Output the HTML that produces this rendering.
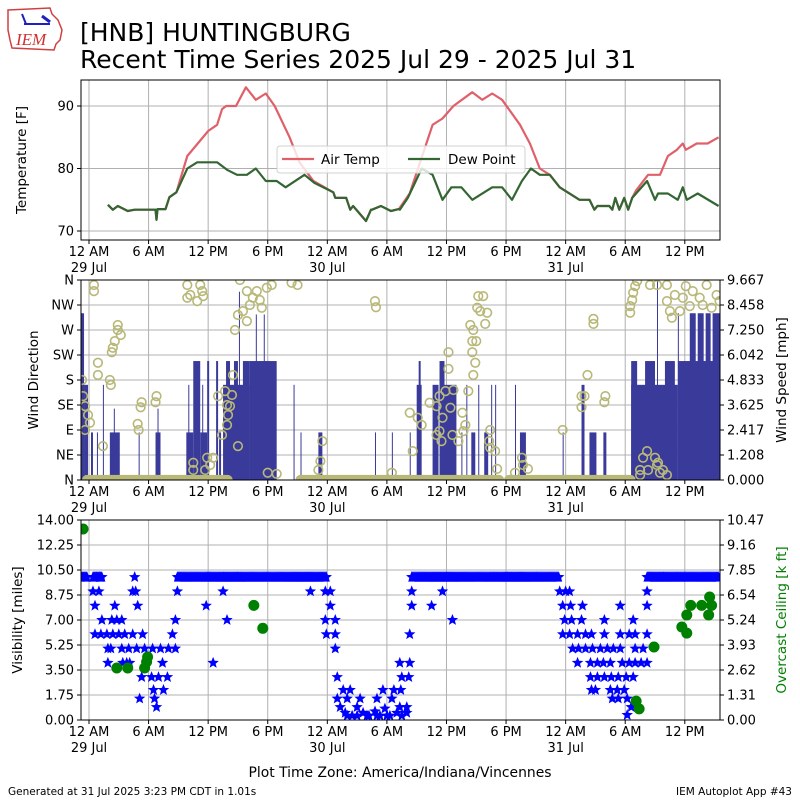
<!DOCTYPE html>
<html><head><meta charset="utf-8">
<style>
html,body{margin:0;padding:0;background:#fff;}
svg{display:block;font-family:"DejaVu Sans","Liberation Sans",sans-serif;}
</style></head>
<body>
<svg id="chart" width="800" height="800" viewBox="0 0 800 800" xmlns="http://www.w3.org/2000/svg">
<defs>
<clipPath id="c1"><rect x="81" y="80" width="639" height="160"/></clipPath>
<clipPath id="c2"><rect x="81" y="280" width="639" height="200"/></clipPath>
<clipPath id="c3"><rect x="81" y="520" width="639" height="200"/></clipPath>
</defs>
<g>
<path d="M8,10 L50,8 L52,14 L58,20 L62,30 L60,40 L56,44 L54,50 L12,48 L10,40 L8,30 Z" fill="none" stroke="#d04040" stroke-width="1.5"/>
<line x1="24" y1="24" x2="50" y2="24" stroke="#2020c0" stroke-width="2"/>
<line x1="22" y1="14" x2="26" y2="24" stroke="#2020c0" stroke-width="2"/>
<line x1="42" y1="16" x2="50" y2="22" stroke="#2020c0" stroke-width="3"/>
<text x="16" y="45" font-family="Liberation Serif,serif" font-style="italic" font-size="17" fill="#d03030">IEM</text>
</g>
<text x="80" y="41" font-size="25">[HNB] HUNTINGBURG</text>
<text x="80" y="68" font-size="25">Recent Time Series 2025 Jul 29 - 2025 Jul 31</text>
<g id="p1"></g>
<g id="p2"></g>
<g id="p3"></g>
<text x="400" y="777" font-size="13.9" text-anchor="middle">Plot Time Zone: America/Indiana/Vincennes</text>
<text x="8" y="795" font-size="10.5">Generated at 31 Jul 2025 3:23 PM CDT in 1.01s</text>
<text x="792" y="795" font-size="10.5" text-anchor="end">IEM Autoplot App #43</text>
</svg>
<script>
// ---- data (hours since 12 AM 29 Jul) ----
const tempHours=[1.9,2.4,2.9,3.9,4.6,4.9,5.9,6.7,6.8,6.9,7.7,8.1,8.8,9.9,12.0,12.9,13.4,13.8,14.8,15.8,16.8,17.8,18.7,20.2,21.2,22.6,24.6,24.8,25.9,26.3,26.6,27.9,28.4,28.5,29.4,30.4,31.2,32.3,34.6,35.6,36.7,38.6,39.6,40.6,41.6,43.4,44.4,45.4,46.4,47.4,49.4,50.4,50.9,51.2,52.4,52.7,53.0,53.4,53.9,54.3,54.7,55.1,56.3,56.8,57.5,58.3,59.2,59.8,60.1,61.2,62.3,63.4];
const tempVals=[74.2,73.4,74,73.2,73.4,73.4,73.4,73.4,71.8,73.5,73.5,75.4,76.2,82,86,87,89.5,90,90,93,91,92,90,85,81,78,76.2,75.3,75.3,73.4,74,71.6,73.4,73.4,74,73.2,73.5,76,87,88,90,92.2,91,92,91,87,84,80,79,77,75,75,73.4,74,74,73.4,75.3,73.4,75.3,73.4,75.3,76.5,79,79,79,82,83,84,83,84,84,85];
const dewHours=[1.9,2.4,2.9,3.9,4.6,4.9,5.9,6.7,6.8,6.9,7.7,8.1,8.8,9.9,10.9,12.9,13.9,14.9,15.9,16.8,17.8,18.9,19.8,21.7,22.7,24.6,24.8,25.9,26.3,26.6,27.9,28.4,28.5,29.4,30.4,31.2,31.3,32.1,33.5,34.6,35.6,36.5,37.5,38.6,40.6,41.6,42.6,43.6,44.5,45.4,46.4,47.4,49.4,50.4,50.9,51.2,52.4,52.7,53.0,53.4,53.9,54.3,54.7,56.2,57.0,57.3,58.3,59.3,59.8,60.2,61.3,63.4];
const dewVals=[74.2,73.4,74,73.2,73.4,73.4,73.4,73.4,71.8,73.5,73.5,75.4,76.2,80,81,81,79.8,79,79,80,78,78,77,79,77.7,76.2,75.3,75.3,73.4,74,71.6,73.4,73.4,74,73.2,73.5,73.4,75.3,80,79,75,77,77,75,77,77,75,78,80,79,79,77,75,75,73.4,74,74,73.4,75.3,73.4,75.3,73.4,75.3,78,75,76,76,75,77,75,76,74];
const tempTicks=[70,80,90];
// wind speed bars
const barStart=[-0.9,-0.5,0.2,0.8,1.4,2.1,2.5,5.0,6.7,6.9,9.8,10.0,10.5,11.2,11.4,11.9,12.8,13.1,13.5,13.8,14.6,15.1,15.5,16.2,16.8,17.6,20.6,21.3,23.1,28.8,30.5,32.3,33.0,33.2,34.6,35.3,35.8,37.5,38.0,38.5,39.2,39.8,40.5,40.9,42.9,43.4,47.7,49.6,50.4,51.8,54.6,54.6,56.0,57.2,58.0,59.3,59.3,60.5,61.3,62.1,62.8];
const barEnd=[-0.5,-0.1,0.4,0.9,1.5,3.1,2.6,5.1,7.2,7.0,10.5,10.1,11.2,11.9,11.5,12.1,13.0,13.3,16.2,14.2,15.0,15.2,16.2,18.9,16.9,17.7,20.7,21.4,23.5,28.9,30.6,32.4,33.5,33.4,35.2,35.8,37.0,37.6,38.1,38.9,39.3,40.2,40.6,41.0,43.0,44.0,47.8,49.9,51.1,52.1,59.3,55.2,57.0,57.3,59.0,63.5,59.4,61.1,61.9,62.6,63.5];
const barSpeed=[8.06,4.6,2.3,2.3,4.6,2.3,3.45,2.3,2.3,3.45,2.3,4.6,5.75,2.3,4.6,5.75,5.75,2.3,4.6,5.75,5.75,9.1,5.75,5.75,8.0,8.0,4.6,2.3,2.3,2.3,2.3,2.3,4.6,5.75,4.6,5.75,4.6,2.3,4.6,2.3,4.6,2.3,4.6,4.6,4.6,2.3,2.3,4.6,2.3,2.3,4.6,5.75,5.75,9.6,5.75,5.75,8.06,8.06,8.06,8.06,8.06];
// wind direction
const dirHours=[0.5,0.5,2.9,2.9,3.2,2.6,2.4,2.3,0.9,0.9,2.1,2.2,-0.7,-0.6,-0.4,-0.1,0.1,-0.4,1.4,5.3,5.2,4.9,5.0,6.8,6.7,9.9,10.2,10.9,11.4,11.2,9.9,11.5,13.0,13.7,13.9,14.0,13.9,13.4,14.4,14.5,14.2,15.0,14.7,15.0,15.5,15.9,16.2,16.5,16.9,17.2,17.4,17.9,18.4,15.9,15.2,20.4,21.0,10.5,10.5,11.9,12.2,12.5,11.7,18.0,18.9,23.5,23.3,23.1,28.8,28.9,30.5,
32.3,33.1,33.5,32.6,34.3,35.0,35.3,36.2,36.2,35.9,36.7,36.4,35.6,35.3,35.0,35.5,36.6,37.2,37.6,37.9,37.7,38.2,38.4,38.7,38.6,39.0,38.6,38.9,38.7,39.1,39.4,39.2,39.7,40.1,39.9,40.4,40.3,40.4,40.9,41.1,42.9,43.6,43.7,44.2,47.7,49.6,49.9,49.6,50.2,50.8,50.8,52.0,51.9,
54.5,54.5,54.7,54.8,55.0,55.2,56.5,57.2,58.2,58.5,58.7,59.5,59.0,59.8,60.5,60.8,61.5,62.2,62.7,63.2,63.5,61.8,60.1,58.2,56.2,55.8,57.0,57.2,55.5,56.3,57.5,58.2,55.5,57.3,57.8];
const dirDeg=[351,340,279,270,261,250,238,230,211,189,180,171,180,151,133,117,103,90,61,140,131,101,90,151,140,351,333,322,340,351,328,331,151,160,135,117,99,81,153,189,133,61,270,297,304,286,315,328,340,324,310,346,351,340,360,355,351,31,18,40,27,40,18,13,11,70,34,18,322,311,13,
121,112,99,52,139,133,151,230,200,160,162,130,112,88,81,70,81,70,121,99,88,160,279,270,250,250,230,211,189,310,304,331,331,301,281,90,70,58,52,20,13,40,27,20,90,151,151,131,189,290,281,151,140,
301,313,324,337,349,358,351,351,322,304,292,304,333,328,313,340,328,351,310,333,322,315,349,351,52,40,40,27,18,18,13,9,9,31,18];
const calmStart=[-0.2,21.3,42.3];
const calmEnd=[14.0,41.3,54.6];
const dirTicks=['N','NE','E','SE','S','SW','W','NW','N'];
const speedTicks=['0.000','1.208','2.417','3.625','4.833','6.042','7.250','8.458','9.667'];
// visibility
const visRunStart=[-0.9,0.4,8.9,32.5,56.2];
const visRunEnd=[-0.2,1.4,24.0,47.4,63.5];
const visHours=[1.1,4.6,0.4,1.0,4.4,4.7,8.9,13.5,22.3,23.8,24.3,0.6,2.6,4.9,11.8,24.3,1.3,2.3,2.8,3.3,8.7,13.9,23.8,24.8,0.6,1.2,1.8,2.4,3.0,3.6,4.4,5.4,8.4,23.9,24.8,1.9,2.2,3.3,4.0,4.8,5.6,6.4,7.2,8.0,8.7,24.8,1.9,3.8,7.4,12.5,3.4,4.1,5.3,6.3,7.0,7.9,25.0,6.5,7.5,25.6,26.3,29.6,30.7,5.1,6.6,25.0,26.0,27.3,29.0,30.5,6.8,25.3,25.8,26.5,27.0,27.6,28.2,28.8,29.3,29.8,30.3,31.0,31.5,32.0,26.0,27.0,28.0,29.0,30.0,
32.5,35.6,47.4,48.0,48.4,56.2,32.5,34.5,47.7,48.5,49.7,53.5,56.2,36.6,47.9,48.6,49.6,51.9,54.8,32.3,47.7,48.4,49.2,50.0,50.6,51.9,53.5,54.4,55.0,56.2,48.7,49.3,50.0,50.7,51.5,52.2,52.8,53.5,55.0,55.8,31.3,32.3,49.2,50.5,51.2,51.8,52.5,53.7,54.4,55.0,55.6,56.2,31.5,32.2,50.5,51.2,51.9,52.6,53.3,54.1,54.8,31.4,50.6,51.0,52.5,53.2,53.9,54.2,52.7,53.3,54.6,31.3,32.0,54.2,54.3];
const visVals=[10,10,9,9,9,9,9,9,9,9,9,8,8,8,8,8,7,7,7,7,7,7,7,7,6,6,6,6,6,6,6,6,6,6,6,5,5,5,5,5,5,5,5,5,5,5,4,4,4,4,4,4,3,3,3,3,3,2.1,2.1,2.1,2.1,2.1,2.1,1.5,1.5,1.5,1.5,1.5,1.5,1.5,0.9,0.9,0.5,0.3,0.9,0.5,0.3,0.6,0.3,0.8,0.3,0.5,0.3,0.5,0.3,0.3,0.3,0.3,0.3,
9,9,9,9,9,9,8,8,8,8,8,8,8,7,7,7,7,7,7,6,6,6,6,6,6,6,6,6,6,6,5,5,5,5,5,5,5,5,5,5,4,4,4,4,4,4,4,4,4,4,4,4,3,3,3,3,3,3,3,3,3,2.1,2.1,2.1,2.1,2.1,2.1,1.5,1.5,1.5,0.9,0.9,0.9,0.35];
const ceilHours=[-0.6,2.8,3.9,5.6,5.8,5.9,16.6,17.5,56.9,55.1,55.4,59.7,60.2,60.2,60.6,61.7,62.5,62.7,62.4];
const ceilVals=[10.0,2.72,2.72,2.72,3.04,3.3,6.0,4.8,3.82,0.99,0.58,4.87,4.55,5.5,6.0,6.0,6.44,6.0,5.5];
const visTicks=['0.00','1.75','3.50','5.25','7.00','8.75','10.50','12.25','14.00'];
const ceilTicks=['0.00','1.31','2.62','3.93','5.24','6.54','7.85','9.16','10.47'];
const xTickHours=[0,6,12,18,24,30,36,42,48,54,60];
const xTickLabels=['12 AM','6 AM','12 PM','6 PM','12 AM','6 AM','12 PM','6 PM','12 AM','6 AM','12 PM'];
const xDates={0:'29 Jul',24:'30 Jul',48:'31 Jul'};

// ---- scales ----
const X0=81,X1=720;
const xs=h=>89+h*9.93;
const ty=t=>106+(90-t)*6.25;
const wy=d=>480-d/1.8;
const ws=s=>480-s/9.667*200;
const vy=v=>720-v/14*200;
const cy=c=>720-c/10.47*200;
const NS='http://www.w3.org/2000/svg';
function mk(parent,tag,attrs){const e=document.createElementNS(NS,tag);for(const k in attrs)e.setAttribute(k,attrs[k]);parent.appendChild(e);return e;}

function frame(g,top,h,leftTicks,leftPos,rightTicks,rightPos,clip){
  const grid=mk(g,'g',{});
  
  
  xTickHours.forEach(hh=>{mk(grid,'line',{x1:xs(hh),x2:xs(hh),y1:top,y2:top+h,stroke:'#b0b0b0','stroke-width':1});});
  leftPos.forEach(y=>{mk(grid,'line',{x1:X0,x2:X1,y1:y,y2:y,stroke:'#b0b0b0','stroke-width':1});});
  const xt=mk(g,'g',{});
  
  
  xTickHours.forEach((hh,i)=>{
    mk(xt,'line',{x1:xs(hh),x2:xs(hh),y1:top+h,y2:top+h+4,stroke:'#000'});
    const t=mk(xt,'text',{x:xs(hh),y:top+h+16,'font-size':13,'text-anchor':'middle'});t.textContent=xTickLabels[i];
    if(xDates[hh]){const d=mk(xt,'text',{x:xs(hh),y:top+h+32,'font-size':13,'text-anchor':'middle'});d.textContent=xDates[hh];}
  });
  const lt=mk(g,'g',{});
  
  
  leftTicks.forEach((l,i)=>{mk(lt,'line',{x1:X0-4,x2:X0,y1:leftPos[i],y2:leftPos[i],stroke:'#000'});
    const t=mk(lt,'text',{x:X0-7,y:leftPos[i]+4.5,'font-size':13,'text-anchor':'end'});t.textContent=l;});
  if(rightTicks){const rt=mk(g,'g',{});
    
    
    rightTicks.forEach((l,i)=>{mk(rt,'line',{x1:X1,x2:X1+4,y1:rightPos[i],y2:rightPos[i],stroke:'#000'});
    const t=mk(rt,'text',{x:X1+7,y:rightPos[i]+4.5,'font-size':13});t.textContent=l;});}
  const pl=mk(g,'g',{'clip-path':'url(#'+clip+')'});
  return pl;
}
function border(g,top,h){const b=mk(g,'rect',{x:X0,y:top,width:X1-X0,height:h,fill:'none',stroke:'#000','stroke-width':1});
  
  }
function ylabel(g,x,y,txt,color){const t=mk(g,'text',{x:x,y:y,'font-size':13.5,'text-anchor':'middle',fill:color||'#000',transform:'rotate(-90 '+x+' '+y+')'});t.textContent=txt;return t;}
function line(g,hs,vs,yf,color){let d='';hs.forEach((h,i)=>{d+=(i?'L':'M')+xs(h).toFixed(1)+','+yf(vs[i]).toFixed(1);});
  return mk(g,'path',{d:d,fill:'none',stroke:color,'stroke-width':2.2,'stroke-linejoin':'round'});}

// ---- panel 1 ----
const p1=document.getElementById('p1');
const pl1=frame(p1,80,160,tempTicks.map(String),tempTicks.map(ty),null,null,'c1');
const airLine=line(pl1,tempHours,tempVals,ty,'#e0606a');


const dewLine=line(pl1,dewHours,dewVals,ty,'#336633');


border(p1,80,160);
const yl1=ylabel(p1,26,160,'Temperature [F]');


const lg=mk(p1,'g',{});


mk(lg,'rect',{x:277,y:146,width:248,height:27,rx:3,fill:'#fff','fill-opacity':0.8,stroke:'#d0d0d0'});
mk(lg,'line',{x1:282,x2:314,y1:159,y2:159,stroke:'#e0606a','stroke-width':2.2});
const la=mk(lg,'text',{x:321,y:164,'font-size':13.5});la.textContent='Air Temp';


mk(lg,'line',{x1:408,x2:440,y1:159,y2:159,stroke:'#336633','stroke-width':2.2});
const ld=mk(lg,'text',{x:448,y:164,'font-size':13.5});ld.textContent='Dew Point';



// ---- panel 2 ----
const p2=document.getElementById('p2');
const dpos=dirTicks.map((t,i)=>wy(i*45));
const pl2=frame(p2,280,200,dirTicks,dpos,speedTicks,dpos,'c2');
const bars=mk(pl2,'g',{fill:'#3a3a9a'});


barStart.forEach((s,i)=>{const x=xs(s),w=Math.max(1,xs(barEnd[i])-x);
  const r=mk(bars,'rect',{x:x,y:ws(barSpeed[i]),width:w,height:480-ws(barSpeed[i])});
  
  });
const circ=mk(pl2,'g',{fill:'none',stroke:'#b8b878','stroke-width':1.6});


calmStart.forEach((s,i)=>{for(let h=s;h<=calmEnd[i];h+=0.08){const c=mk(circ,'circle',{cx:xs(h),cy:wy(0),r:4.3});
  
  }});
dirHours.forEach((h,i)=>{const c=mk(circ,'circle',{cx:xs(h),cy:wy(dirDeg[i]),r:4.3});
  
  });
border(p2,280,200);
const yl2=ylabel(p2,38,380,'Wind Direction');


const yr2=ylabel(p2,786,380,'Wind Speed [mph]');



// ---- panel 3 ----
const p3=document.getElementById('p3');
const vpos=visTicks.map(t=>vy(parseFloat(t)));
const pl3=frame(p3,520,200,visTicks,vpos,ceilTicks,vpos,'c3');
function star(g,cx,cyv){const r=6,ri=2.6;let pts=[];for(let k=0;k<10;k++){const a=-Math.PI/2+k*Math.PI/5,rr=k%2?ri:r;pts.push((cx+rr*Math.cos(a)).toFixed(1)+','+(cyv+rr*Math.sin(a)).toFixed(1));}
  return mk(g,'polygon',{points:pts.join(' ')});}
const stars=mk(pl3,'g',{fill:'#0000ff'});


visRunStart.forEach((s,i)=>{for(let h=s;h<=visRunEnd[i];h+=0.1){const st=star(stars,xs(h),vy(10));
  
  }});
visHours.forEach((h,i)=>{const st=star(stars,xs(h),vy(visVals[i]));
  
  });
const ceil=mk(pl3,'g',{fill:'#008000'});


ceilHours.forEach((h,i)=>{const c=mk(ceil,'circle',{cx:xs(h),cy:cy(ceilVals[i]),r:5.5});
  
  });
border(p3,520,200);
const yl3=ylabel(p3,22,620,'Visibility [miles]');


const yr3=ylabel(p3,786,620,'Overcast Ceiling [k ft]','#008000');


</script>
</body></html>
